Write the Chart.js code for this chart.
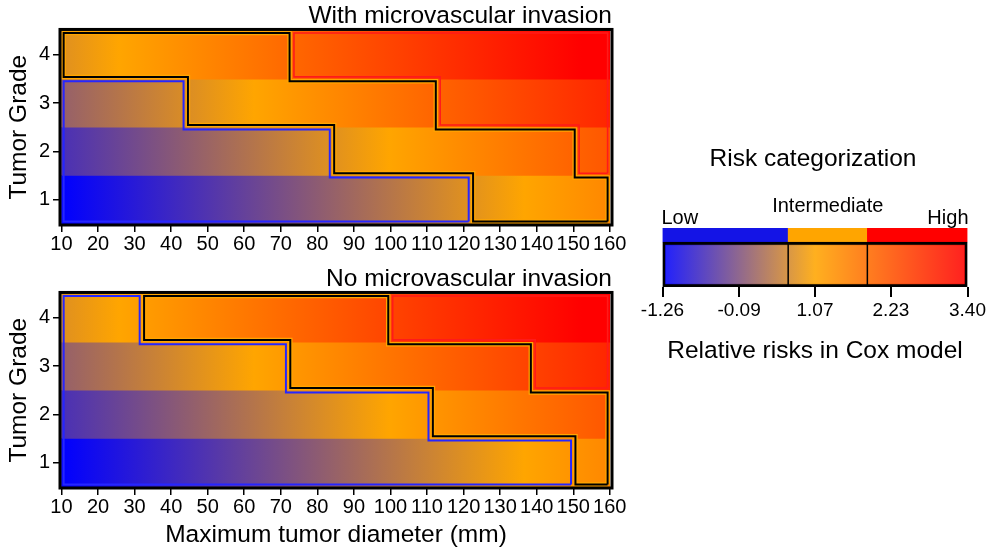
<!DOCTYPE html>
<html lang="en">
<head>
<meta charset="UTF-8">
<title>Risk categorization</title>
<script src="https://cdn.jsdelivr.net/npm/chart.js"></script>
<style>
    * { margin: 0; padding: 0; box-sizing: border-box; }
    body { width: 992px; height: 551px; background: #fff; position: relative; overflow: hidden; }
    canvas { position: absolute; }
    #topChart { left: 0; top: 0; }
    #bottomChart { left: 0; top: 263px; }
    #legendChart { left: 620px; top: 130px; }
</style>
</head>
<body>
<canvas id="topChart" width="640" height="260"></canvas>
<canvas id="bottomChart" width="640" height="288"></canvas>
<canvas id="legendChart" width="372" height="250"></canvas>

<script>
// tumor grades (rows) and diameter axis
const grades = [1, 2, 3, 4];
const diameterSpan = [10, 160];
const diameterTicks = [10, 20, 30, 40, 50, 60, 70, 80, 90, 100, 110, 120, 130, 140, 150, 160];

// relative risk shown at 10 mm and at 160 mm, grade 1..4 (same colour scale in both panels)
const riskAt10 = [-1.26, -0.58, 0.10, 0.78];
const riskAt160 = [1.50, 2.18, 2.86, 3.54];

// diameter (mm) where each grade goes low -> intermediate and intermediate -> high
const lowCutMVI = [122, 84, 44, 10];
const highCutMVI = [160, 151, 113, 73];
const lowCutNoMVI = [150, 111, 72, 32];
const highCutNoMVI = [160, 160, 139, 100];

// colour bar
const riskTicks = [-1.26, -0.09, 1.07, 2.23, 3.40];
const riskCuts = [0.66, 1.87];
const categories = ['Low', 'Intermediate', 'High'];

const FONT = '"Liberation Sans", Arial, sans-serif';
Chart.defaults.font.family = FONT;
Chart.defaults.color = '#000';

// blue -> orange -> red colour map
const mapStops = [-1.26, 1.07, 3.40];
const mapColors = [[0, 0, 255], [255, 165, 0], [255, 0, 0]];

function riskColor(v, alpha) {
    v = Math.max(mapStops[0], Math.min(mapStops[2], v));
    const k = v <= mapStops[1] ? 0 : 1;
    const t = (v - mapStops[k]) / (mapStops[k + 1] - mapStops[k]);
    const c = mapColors[k].map((a, i) => Math.round(a + (mapColors[k + 1][i] - a) * t));
    return `rgba(${c[0]},${c[1]},${c[2]},${alpha === undefined ? 1 : alpha})`;
}

function riskGradient(ctx, x0, x1, v0, v1, alpha) {
    const g = ctx.createLinearGradient(x0, 0, x1, 0);
    g.addColorStop(0, riskColor(v0, alpha));
    mapStops.forEach(s => {
        const t = (s - v0) / (v1 - v0);
        if (t > 0 && t < 1) g.addColorStop(t, riskColor(s, alpha));
    });
    g.addColorStop(1, riskColor(v1, alpha));
    return g;
}

// outline of the cells [starts[i], ends[i]] of each grade, pulled slightly inwards
function outline(starts, ends, inset) {
    let pts = [];
    const rows = grades.map((g, i) => i).filter(i => ends[i] > starts[i]);
    rows.forEach(i => pts.push([ends[i], grades[i] - 0.5], [ends[i], grades[i] + 0.5]));
    rows.slice().reverse().forEach(i => pts.push([starts[i], grades[i] + 0.5], [starts[i], grades[i] - 0.5]));

    let changed = true;
    while (changed) {
        changed = false;
        for (let i = 0; i < pts.length; i++) {
            const a = pts[(i - 1 + pts.length) % pts.length], b = pts[i], c = pts[(i + 1) % pts.length];
            if ((a[0] === b[0] && b[0] === c[0]) || (a[1] === b[1] && b[1] === c[1])) {
                pts.splice(i, 1);
                changed = true;
                break;
            }
        }
    }

    const n = pts.length;
    const out = pts.map((p, i) => {
        const a = pts[(i - 1 + n) % n], c = pts[(i + 1) % n];
        let dx = 0, dy = 0;
        [[p[0] - a[0], p[1] - a[1]], [c[0] - p[0], c[1] - p[1]]].forEach(([ex, ey]) => {
            dx += -Math.sign(ey);
            dy += Math.sign(ex);
        });
        return { x: p[0] + dx * inset[0], y: p[1] + dy * inset[1] };
    });
    out.push(out[0]);
    return out;
}

function lineSet(pts, color, width, order) {
    return {
        type: 'line', data: pts, borderColor: color, borderWidth: width,
        pointRadius: 0, fill: false, tension: 0, borderJoinStyle: 'miter', order: order
    };
}

const framePlugin = {
    id: 'frame',
    afterDatasetsDraw(chart) {
        const { ctx, chartArea: a } = chart;
        ctx.save();
        ctx.strokeStyle = '#000';
        ctx.lineWidth = 3;
        ctx.strokeRect(a.left, a.top, a.right - a.left, a.bottom - a.top);
        ctx.restore();
    }
};

function tickAxis(extra) {
    return Object.assign({
        type: 'linear',
        offset: false,
        border: { display: false },
        grid: { offset: false, drawOnChartArea: false, color: '#000', lineWidth: 1.5, tickLength: 7 },
    }, extra);
}

function createPanel(id, title, lowCut, highCut, showXTitle) {
    const inset = [0.6, 0.045];
    const starts = grades.map(() => diameterSpan[0]);
    const ends = grades.map(() => diameterSpan[1]);
    const low = outline(starts, lowCut, inset);
    const mid = outline(lowCut, highCut, inset);
    const high = outline(highCut, ends, inset);

    new Chart(document.getElementById(id), {
        type: 'line',
        data: {
            datasets: [
                {
                    type: 'bar',
                    indexAxis: 'y',
                    data: grades.map(g => ({ y: g, x: diameterSpan.slice() })),
                    barPercentage: 1,
                    categoryPercentage: 1,
                    borderWidth: 0,
                    order: 10,
                    backgroundColor(ctx) {
                        const x = ctx.chart.scales.x;
                        if (!ctx.chart.chartArea || ctx.dataIndex === undefined || !x) return '#888';
                        const i = ctx.dataIndex;
                        return riskGradient(ctx.chart.ctx, x.getPixelForValue(diameterSpan[0]),
                            x.getPixelForValue(diameterSpan[1]), riskAt10[i], riskAt160[i]);
                    }
                },
                lineSet(mid, '#ffa500', 4.5, 3),
                lineSet(mid, '#000', 2, 2),
                lineSet(low, '#2626ff', 2, 1),
                lineSet(high, '#ff1a1a', 1.6, 1)
            ]
        },
        options: {
            responsive: false,
            animation: false,
            layout: { padding: { left: 0, right: 28, top: 0, bottom: 0 } },
            plugins: {
                legend: { display: false },
                tooltip: { enabled: false },
                title: {
                    display: true, text: title, align: 'end', color: '#000',
                    font: { size: 24.5, weight: 'normal', lineHeight: 1.1 },
                    padding: { top: 2.5, bottom: 0 }
                }
            },
            scales: {
                x: tickAxis({
                    min: 9.6, max: 160.6,
                    afterBuildTicks(s) { s.ticks = diameterTicks.map(v => ({ value: v })); },
                    afterFit(s) { s.height = showXTitle ? 63 : 35; s.paddingLeft = 0; s.paddingRight = 0; },
                    ticks: { font: { size: 20 }, padding: 0.5, maxRotation: 0, autoSkip: false },
                    title: {
                        display: showXTitle, text: 'Maximum tumor diameter (mm)',
                        font: { size: 24.5 }, padding: { top: 0, bottom: 1 }
                    }
                }),
                y: tickAxis({
                    min: 0.47, max: 4.53,
                    afterBuildTicks(s) { s.ticks = grades.map(v => ({ value: v })); },
                    afterFit(s) { s.width = 60; s.paddingTop = 0; s.paddingBottom = 0; },
                    ticks: { font: { size: 20 }, padding: 3 },
                    title: { display: true, text: 'Tumor Grade', font: { size: 24.5 }, padding: { top: 5, bottom: 0 } }
                })
            }
        },
        plugins: [framePlugin]
    });
}

createPanel('topChart', 'With microvascular invasion', lowCutMVI, highCutMVI, false);
createPanel('bottomChart', 'No microvascular invasion', lowCutNoMVI, highCutNoMVI, true);

// colour bar legend
const catEdges = [riskTicks[0], ...riskCuts, riskTicks[riskTicks.length - 1]];

const legendText = {
    id: 'legendText',
    afterDraw(chart) {
        const { ctx, scales: { x } } = chart;
        ctx.save();
        ctx.fillStyle = '#000';
        ctx.textBaseline = 'middle';
        ctx.font = '24.5px ' + FONT;
        ctx.textAlign = 'center';
        ctx.fillText('Risk categorization', (x.left + x.right) / 2 - 2, 29);
        ctx.font = '20px ' + FONT;
        ctx.textAlign = 'left';
        ctx.fillText(categories[0], x.getPixelForValue(catEdges[0]) - 1, 88);
        ctx.textAlign = 'center';
        ctx.fillText(categories[1], x.getPixelForValue((riskCuts[0] + riskCuts[1]) / 2), 76);
        ctx.textAlign = 'right';
        ctx.fillText(categories[2], x.getPixelForValue(catEdges[3]) + 1, 88);
        ctx.restore();
    }
};

new Chart(document.getElementById('legendChart'), {
    type: 'line',
    data: {
        datasets: [
            {
                type: 'bar', indexAxis: 'y', grouped: false, barThickness: 14, order: 5,
                data: categories.map((c, i) => ({ y: 52, x: [catEdges[i], catEdges[i + 1]] })),
                backgroundColor: ['#1414e6', '#ffa500', '#ff0000'],
                borderWidth: 0
            },
            {
                type: 'bar', indexAxis: 'y', grouped: false, barThickness: 45, order: 4,
                data: [{ y: 22.5, x: [catEdges[0], catEdges[3]] }],
                borderColor: '#000', borderWidth: 3, borderSkipped: false,
                backgroundColor(ctx) {
                    const x = ctx.chart.scales.x;
                    if (!ctx.chart.chartArea || !x) return '#888';
                    return riskGradient(ctx.chart.ctx, x.getPixelForValue(catEdges[0]),
                        x.getPixelForValue(catEdges[3]), catEdges[0], catEdges[3], 0.88);
                }
            },
            ...riskCuts.map(c => lineSet([{ x: c, y: 1.5 }, { x: c, y: 43.5 }], '#000', 1.5, 1))
        ]
    },
    options: {
        responsive: false,
        animation: false,
        layout: { padding: { left: 42.5, right: 24.5, top: 98, bottom: 0 } },
        plugins: { legend: { display: false }, tooltip: { enabled: false } },
        scales: {
            x: tickAxis({
                min: riskTicks[0], max: riskTicks[riskTicks.length - 1],
                afterBuildTicks(s) { s.ticks = riskTicks.map(v => ({ value: v })); },
                afterFit(s) { s.height = 93; s.paddingLeft = 0; s.paddingRight = 0; },
                grid: { offset: false, drawOnChartArea: false, color: '#000', lineWidth: 2, tickLength: 10 },
                ticks: { font: { size: 19 }, padding: 2.5, maxRotation: 0, autoSkip: false,
                    callback: (v, i) => riskTicks[i].toFixed(2) },
                title: { display: true, text: 'Relative risks in Cox model', font: { size: 24.5 }, padding: { top: 0, bottom: 13.6 } }
            }),
            y: { type: 'linear', min: 0, max: 59, display: false, offset: false, grid: { offset: false } }
        }
    },
    plugins: [legendText]
});
</script>
</body>
</html>
